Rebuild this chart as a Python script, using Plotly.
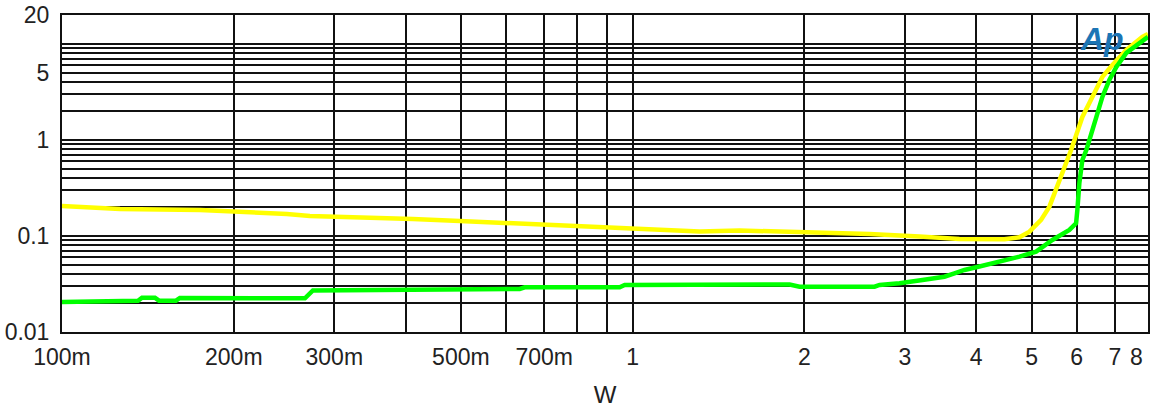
import math
import plotly.graph_objects as go

# ---- data ----
yellow_w = [0.1, 0.1075, 0.1264, 0.1745, 0.2117, 0.2478, 0.2719, 0.3325, 0.4119, 0.4978,
            0.609, 0.7154, 0.8405, 0.988, 1.161, 1.310, 1.539, 1.961, 2.601, 3.181,
            3.738, 4.482, 4.762, 4.958, 5.197, 5.374, 5.521, 5.709, 5.866, 6.139,
            6.392, 6.655, 6.929, 7.331, 7.82, 8.0]
yellow_v = [0.2054, 0.2005, 0.1911, 0.1866, 0.1778, 0.1695, 0.1616, 0.1577, 0.1503, 0.1433,
            0.1366, 0.1302, 0.1241, 0.1212, 0.1155, 0.1114, 0.1141, 0.1101, 0.1049, 0.0988,
            0.0931, 0.0924, 0.0969, 0.1109, 0.1468, 0.202, 0.3014, 0.527, 0.787, 1.736,
            2.805, 4.532, 6.04, 8.66, 11.83, 12.71]

green_w = [0.1, 0.1075, 0.1214, 0.1359, 0.1381, 0.1455, 0.1479, 0.1584, 0.1609, 0.205,
           0.2665, 0.2752, 0.3908, 0.5396, 0.634, 0.6469, 0.9489, 0.9683, 1.884, 1.961,
           2.654, 2.708, 2.935, 3.22, 3.518, 3.664, 3.814, 4.052, 4.393, 4.762,
           5.093, 5.439, 5.825, 5.985, 6.016, 6.065, 6.139, 6.239, 6.496, 6.655,
           6.845, 7.041, 7.331, 7.726, 8.0]
green_v = [0.02054, 0.02078, 0.02119, 0.02119, 0.02277, 0.02277, 0.02119, 0.02119, 0.02261, 0.02244,
           0.02244, 0.02706, 0.02738, 0.02805, 0.02805, 0.02921, 0.02921, 0.03087, 0.03124, 0.02964,
           0.02964, 0.03087, 0.03216, 0.03481, 0.03768, 0.04088, 0.04425, 0.04812, 0.0536, 0.06087,
           0.06861, 0.09085, 0.1155, 0.1356, 0.1866, 0.3565, 0.6189, 0.787, 1.736, 2.805,
           4.217, 5.76, 8.06, 10.24, 11.83]

x_tickvals = [0.1, 0.2, 0.3, 0.5, 0.7, 1, 2, 3, 4, 5, 6, 7]
x_ticktext = ["100m", "200m", "300m", "500m", "700m", "1", "2", "3", "4", "5", "6", "7"]
x_grid = [0.1, 0.2, 0.3, 0.4, 0.5, 0.6, 0.7, 0.8, 0.9, 1, 2, 3, 4, 5, 6, 7, 8]
x_range = [0.1, 8.0]

y_tickvals = [0.01, 0.1, 1, 5, 20]
y_ticktext = ["0.01", "0.1", "1", "5", "20"]
y_grid = [0.01, 0.02, 0.03, 0.04, 0.05, 0.06, 0.07, 0.08, 0.09,
          0.1, 0.2, 0.3, 0.4, 0.5, 0.6, 0.7, 0.8, 0.9,
          1, 2, 3, 4, 5, 6, 7, 8, 9, 10]
y_range = [0.01, 20]

FONT = "Liberation Sans, Arial, sans-serif"
TXT = "#222222"
FS = 23

fig = go.Figure()
fig.add_trace(go.Scatter(x=yellow_w, y=yellow_v, mode="lines",
                         line=dict(color="#FFFF00", width=4.5), showlegend=False))
fig.add_trace(go.Scatter(x=green_w, y=green_v, mode="lines",
                         line=dict(color="#00FF00", width=4.5), showlegend=False))

fig.update_xaxes(type="log", range=[math.log10(x_range[0]), math.log10(x_range[1])],
                 tickvals=x_tickvals, ticktext=x_ticktext, automargin=False,
                 ticks="outside", ticklen=3, tickcolor="rgba(0,0,0,0)",
                 showgrid=True, gridcolor="#111111", gridwidth=1.5,
                 minor=dict(tickvals=x_grid, showgrid=True, gridcolor="#111111", gridwidth=1.5,
                            ticks=""),
                 showline=True, linecolor="#111111", linewidth=2, mirror=True,
                 zeroline=False,
                 tickfont=dict(family=FONT, size=FS, color=TXT),
                 title=dict(text="W", font=dict(family=FONT, size=24, color=TXT), standoff=19))
fig.update_yaxes(type="log", range=[math.log10(y_range[0]), math.log10(y_range[1])],
                 tickvals=y_tickvals, ticktext=y_ticktext, automargin=False,
                 ticks="outside", ticklen=6, tickcolor="rgba(0,0,0,0)",
                 showgrid=True, gridcolor="#111111", gridwidth=1.5,
                 minor=dict(tickvals=y_grid, showgrid=True, gridcolor="#111111", gridwidth=1.5,
                            ticks=""),
                 showline=True, linecolor="#111111", linewidth=2, mirror=True,
                 zeroline=False,
                 tickfont=dict(family=FONT, size=FS, color=TXT))

# last x label kept inside the frame like the reference
fig.add_annotation(x=math.log10(8), y=0, xref="x", yref="paper", text="8",
                   showarrow=False, xanchor="right", yanchor="top", xshift=-3, yshift=-10,
                   font=dict(family=FONT, size=FS, color=TXT))
# Ap logo
fig.add_annotation(x=0.958, y=0.925, xref="paper", yref="paper", text="<i><b>Ap</b></i>",
                   showarrow=False, xanchor="center", yanchor="middle",
                   font=dict(family=FONT, size=32, color="#1C75B5"))

fig.update_layout(width=1151, height=408,
                  margin=dict(l=62, r=3, t=15, b=76),
                  paper_bgcolor="white", plot_bgcolor="white",
                  showlegend=False)

fig.write_html("out.html", config={"displayModeBar": False},
               post_script="document.body.style.margin='0';document.body.style.padding='0';")
